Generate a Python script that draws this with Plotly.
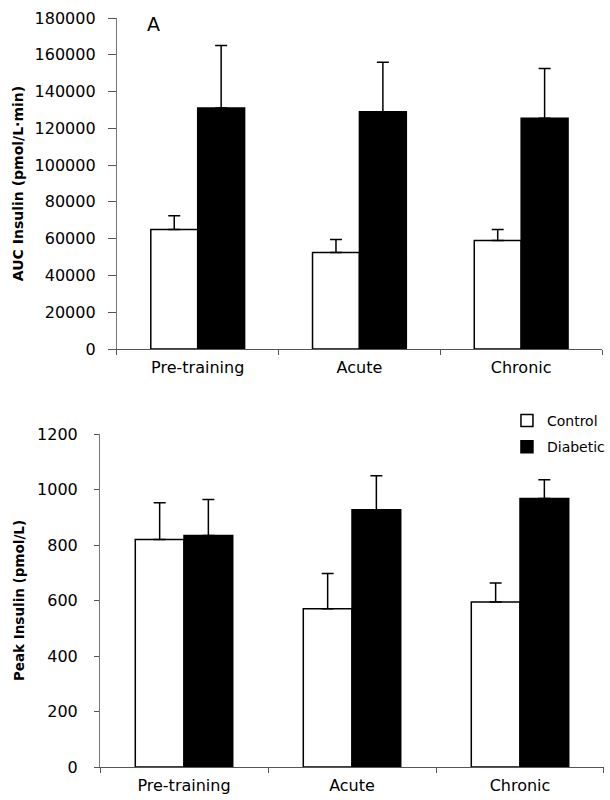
import plotly.graph_objects as go

categories = ["Pre-training", "Acute", "Chronic"]

# Panel A: AUC insulin (pmol/L·min)
auc_control = [65000, 52500, 59000]
auc_control_se = [7500, 7000, 6000]
auc_diabetic = [131000, 129000, 125500]
auc_diabetic_se = [34000, 27000, 27000]

# Panel B: Peak insulin (pmol/L)
peak_control = [820, 570, 595]
peak_control_se = [132, 127, 68]
peak_diabetic = [834, 927, 968]
peak_diabetic_se = [130, 123, 67]

auc_ticks = [0, 20000, 40000, 60000, 80000, 100000, 120000, 140000, 160000, 180000]
peak_ticks = [0, 200, 400, 600, 800, 1000, 1200]

FONT = "DejaVu Sans"
W, H = 610, 800

fig = go.Figure()


def add_pair(ctrl, ctrl_se, diab, diab_se, xa, ya, show):
    err_style = dict(type="data", symmetric=False, color="black", thickness=1.5, width=6)
    fig.add_trace(go.Bar(
        x=categories, y=ctrl, name="Control", xaxis=xa, yaxis=ya,
        marker=dict(color="white", line=dict(color="black", width=1.5)),
        error_y=dict(array=ctrl_se, arrayminus=[0] * len(ctrl_se), **err_style),
        showlegend=show, legendgroup="c",
    ))
    fig.add_trace(go.Bar(
        x=categories, y=diab, name="Diabetic", xaxis=xa, yaxis=ya,
        marker=dict(color="black", line=dict(color="black", width=1.5)),
        error_y=dict(array=diab_se, arrayminus=[0] * len(diab_se), **err_style),
        showlegend=show, legendgroup="d",
    ))


add_pair(auc_control, auc_control_se, auc_diabetic, auc_diabetic_se, "x", "y", False)
add_pair(peak_control, peak_control_se, peak_diabetic, peak_diabetic_se, "x2", "y2", True)

xcommon = dict(
    type="category", range=[-0.5, 2.5], showgrid=False, showline=True,
    linecolor="#555", linewidth=1, ticks="outside", ticklen=5, tickcolor="#555",
    tickson="boundaries", tickfont=dict(family=FONT, size=16, color="black"),
    zeroline=False, automargin=False, ticklabelstandoff=4,
)
ycommon = dict(
    showgrid=False, showline=True, linecolor="#777", linewidth=1,
    ticks="outside", tickcolor="#555", tickfont=dict(family=FONT, size=16, color="black"),
    zeroline=False, automargin=False,
)

fig.update_layout(
    template="none",
    width=W, height=H,
    margin=dict(l=0, r=0, t=0, b=0, pad=0),
    paper_bgcolor="white", plot_bgcolor="white",
    barmode="group", bargap=0.42, bargroupgap=0,
    font=dict(family=FONT, color="black"),
    xaxis=dict(domain=[118 / W, 608 / W], anchor="y", **xcommon),
    yaxis=dict(domain=[(H - 349) / H, (H - 18) / H], anchor="x", range=[0, 180000],
               tickvals=auc_ticks, ticktext=[str(v) for v in auc_ticks],
               ticklen=8, ticklabelstandoff=9,
               title=dict(text="<b>AUC Insulin (pmol/L·min)</b>",
                          font=dict(family=FONT, size=14), standoff=7),
               **ycommon),
    xaxis2=dict(domain=[101 / W, 1.0], anchor="y2", **xcommon),
    yaxis2=dict(domain=[(H - 767) / H, (H - 434) / H], anchor="x2", range=[0, 1200],
                tickvals=peak_ticks, ticktext=[str(v) for v in peak_ticks],
                ticklen=5, ticklabelstandoff=13,
                title=dict(text="<b>Peak Insulin (pmol/L)</b>",
                           font=dict(family=FONT, size=13.5), standoff=9),
                **ycommon),
    legend=dict(x=512 / W, y=(H - 405) / H, xanchor="left", yanchor="top",
                bgcolor="rgba(0,0,0,0)", font=dict(family=FONT, size=14),
                itemwidth=30, tracegroupgap=5, borderwidth=0),
    annotations=[dict(text="A", x=155 / W, y=(H - 24) / H, xref="paper", yref="paper",
                      xanchor="center", yanchor="middle",
                      showarrow=False, font=dict(family=FONT, size=19, color="black"))],
)

fig.write_html("out.html", config={"displayModeBar": False},
               post_script="document.body.style.margin='0';")
